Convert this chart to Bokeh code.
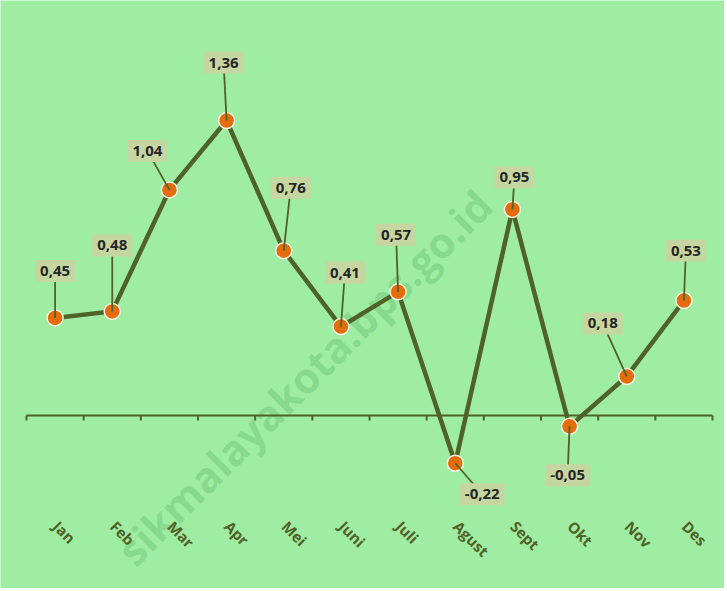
import math
from bokeh.plotting import figure
from bokeh.models import Range1d, Label
from bokeh.core.properties import value
from bokeh.embed import file_html
from bokeh.resources import INLINE

months = ["Jan", "Feb", "Mar", "Apr", "Mei", "Juni", "Juli", "Agust", "Sept", "Okt", "Nov", "Des"]
values = [0.45, 0.48, 1.04, 1.36, 0.76, 0.41, 0.57, -0.22, 0.95, -0.05, 0.18, 0.53]
# label box offsets from each point, in pixels (dx right, dy up)
label_dx = [0, 0, -22, -3, 7, 4, -2, 27, 2, -2, -24, 2]
label_dy = [47, 66, 39, 58, 63, 54, 57, -31, 32, -49, 53, 50]

BG = "#9FEDA3"
OLIVE = "#4F6228"
ORANGE = "#E46C0A"
BOX = "#C6D6A0"

W, H = 724, 588
axis_left_px, axis_right_px = 26, 712   # pixel extent of category band
zero_px = 415                            # pixel row of the zero line
px_per_x = (axis_right_px - axis_left_px) / 12
px_per_y = 216.9
x0 = -0.5 - axis_left_px / px_per_x
x1 = 11.5 + (W - axis_right_px) / px_per_x
y1 = zero_px / px_per_y
y0 = -(H - zero_px) / px_per_y

p = figure(width=W, height=H, output_backend="svg", toolbar_location=None,
           x_range=Range1d(x0, x1), y_range=Range1d(y0, y1),
           x_axis_location=None, y_axis_location=None,
           min_border_left=0, min_border_right=0, min_border_top=0, min_border_bottom=0)
p.background_fill_color = BG
p.border_fill_color = BG
p.outline_line_color = None
p.grid.visible = False

xs = list(range(len(months)))

# watermark
p.text(x=[4.2], y=[0.09], x_offset=9, y_offset=-19,
       text=["sikmalayakota.bps.go.id"], angle=math.pi / 4,
       text_align="center", text_baseline="middle", text_font=value("Open Sans"),
       text_font_style="bold", text_font_size="42px", text_color="#7FD386",
       text_alpha=0.75)

# zero axis line and ticks
p.segment(x0=[-0.5], y0=[0], x1=[11.5], y1=[0], line_color=OLIVE, line_width=2)
bounds = [i - 0.5 for i in range(len(months) + 1)]
tick_len = 5 / px_per_y
p.segment(x0=bounds, y0=[0] * len(bounds), x1=bounds, y1=[-tick_len] * len(bounds),
          line_color=OLIVE, line_width=2)

# month labels
label_row = -(523 - zero_px) / px_per_y
p.text(x=xs, y=[label_row] * len(xs), text=months, angle=-math.pi / 4,
       x_offset=1, text_align="left", text_baseline="middle",
       text_font=value("Open Sans"), text_font_style="bold", text_font_size="15px",
       text_color=OLIVE)

# main line and markers
p.line(xs, values, line_color=OLIVE, line_width=4.5)
p.scatter(xs, values, size=16, fill_color=ORANGE, line_color="#F4F4E8", line_width=1.5)

# leader lines
lx = [x + dx / px_per_x for x, dx in zip(xs, label_dx)]
ly = [v + dy / px_per_y for v, dy in zip(values, label_dy)]
p.segment(x0=xs, y0=values, x1=lx, y1=ly, line_color=OLIVE, line_width=1.8)

# data labels
for x, y, v in zip(lx, ly, values):
    txt = f"{v:.2f}".replace(".", ",")
    p.add_layout(Label(x=x, y=y, text=txt, text_align="center", text_baseline="middle",
                       text_font="Open Sans", text_font_style="bold", text_font_size="15px",
                       text_color="#262626", background_fill_color=BOX,
                       padding=(5, 6)))

open("out.html", "w").write(file_html(p, INLINE))
